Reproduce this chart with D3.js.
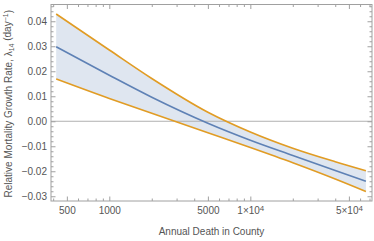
<!DOCTYPE html>
<html><head><meta charset="utf-8">
<script src="https://cdn.jsdelivr.net/npm/d3@7"></script>
<style>
body{margin:0;background:#fff;}
svg{display:block;font-family:"Liberation Sans",Arial,sans-serif;}
</style></head>
<body><svg id="c" width="374" height="241"></svg>
<script>
const deaths = [420, 1000, 2000, 5000, 10000, 20000, 40000, 66000];
const mid    = [0.0298, 0.0184, 0.0096, -0.0008, -0.0076, -0.0137, -0.0197, -0.0240];
const upper  = [0.0429, 0.0285, 0.0171, 0.0036, -0.0043, -0.0108, -0.0162, -0.0198];
const lower  = [0.0169, 0.0091, 0.0032, -0.0046, -0.0105, -0.0166, -0.0231, -0.0281];
const xMajor = [500, 1000, 5000, 10000, 50000];
const xMinor = [400,600,700,800,900,2000,3000,4000,6000,7000,8000,9000,20000,30000,40000,60000,70000];
const yMajor = [0.04,0.03,0.02,0.01,0,-0.01,-0.02,-0.03];

const L=51,R=372,T=4.5,B=201;
const svg=d3.select("#c");
const x=d3.scaleLog().domain([386,72900]).range([L,R]);
const y=d3.scaleLinear().domain([-0.0319,0.0467]).range([B,T]);
const yMinor=d3.range(-0.030,0.0461,0.002).filter(v=>!yMajor.some(m=>Math.abs(m-v)<1e-6));

const pts=deaths.map((d,i)=>({d,m:mid[i],u:upper[i],l:lower[i]}));
const curve=d3.curveMonotoneX;
svg.append("path").datum(pts)
  .attr("d",d3.area().x(p=>x(p.d)).y0(p=>y(p.l)).y1(p=>y(p.u)).curve(curve))
  .attr("fill","#dfe6f0");
svg.append("line").attr("x1",L).attr("x2",R).attr("y1",y(0)).attr("y2",y(0))
  .attr("stroke","#b0b0b0").attr("stroke-width",1);
const line=k=>d3.line().x(p=>x(p.d)).y(p=>y(p[k])).curve(curve);
svg.append("path").datum(pts).attr("d",line("u")).attr("fill","none").attr("stroke","#e19c24").attr("stroke-width",1.6);
svg.append("path").datum(pts).attr("d",line("l")).attr("fill","none").attr("stroke","#e19c24").attr("stroke-width",1.6);
svg.append("path").datum(pts).attr("d",line("m")).attr("fill","none").attr("stroke","#5e81b5").attr("stroke-width",1.6);

svg.append("rect").attr("x",L).attr("y",T).attr("width",R-L).attr("height",B-T)
  .attr("fill","none").attr("stroke","#a0a0a0").attr("stroke-width",1);

function style(g){g.select(".domain").remove();g.selectAll("line").attr("stroke","#a0a0a0");
  g.selectAll("text").attr("fill","#555").style("font-size","10px").style("font-family","'Liberation Sans',Arial,sans-serif");}

const fmtY=v=>(v<0?"\u2212":"")+Math.abs(v).toFixed(2);
svg.append("g").attr("transform",`translate(${L},0)`)
  .call(d3.axisLeft(y).tickValues(yMajor).tickSize(-4.5).tickPadding(4).tickFormat(fmtY)).call(style);
svg.append("g").attr("transform",`translate(${L},0)`)
  .call(d3.axisLeft(y).tickValues(yMinor).tickSize(-2.5).tickFormat("")).call(style);
svg.append("g").attr("transform",`translate(${R},0)`)
  .call(d3.axisRight(y).tickValues(yMajor).tickSize(-4.5).tickFormat("")).call(style);
svg.append("g").attr("transform",`translate(${R},0)`)
  .call(d3.axisRight(y).tickValues(yMinor).tickSize(-2.5).tickFormat("")).call(style);

const gx=svg.append("g").attr("transform",`translate(0,${B})`)
  .call(d3.axisBottom(x).tickValues(xMajor).tickSize(-4.5).tickPadding(6).tickFormat(d=>d)).call(style);
gx.selectAll("text").each(function(d){
  if(d>=10000){const t=d3.select(this).text("");
    t.append("tspan").text((d/10000)+"\u00d710");
    t.append("tspan").attr("dy","-0.4em").style("font-size","8px").text("4");}
});
svg.append("g").attr("transform",`translate(0,${B})`)
  .call(d3.axisBottom(x).tickValues(xMinor.filter(v=>x(v)>L&&x(v)<R)).tickSize(-2.5).tickFormat("")).call(style);
svg.append("g").attr("transform",`translate(0,${T})`)
  .call(d3.axisTop(x).tickValues(xMajor).tickSize(-4.5).tickFormat("")).call(style);
svg.append("g").attr("transform",`translate(0,${T})`)
  .call(d3.axisTop(x).tickValues(xMinor.filter(v=>x(v)>L&&x(v)<R)).tickSize(-2.5).tickFormat("")).call(style);

svg.append("text").attr("x",(L+R)/2).attr("y",235).attr("text-anchor","middle")
  .attr("fill","#555").style("font-size","10px").text("Annual Death in County");
const yl=svg.append("text").attr("transform",`translate(12,${(T+B)/2+1}) rotate(-90)`)
  .attr("text-anchor","middle").attr("fill","#555").style("font-size","10px");
yl.append("tspan").text("Relative Mortality Growth Rate, \u03bb");
yl.append("tspan").attr("dy","0.3em").style("font-size","7px").text("14");
yl.append("tspan").attr("dy","-0.3em").text(" (day");
yl.append("tspan").attr("dy","-0.45em").style("font-size","7px").text("\u22121");
yl.append("tspan").attr("dy","0.45em").text(")");
</script></body></html>
